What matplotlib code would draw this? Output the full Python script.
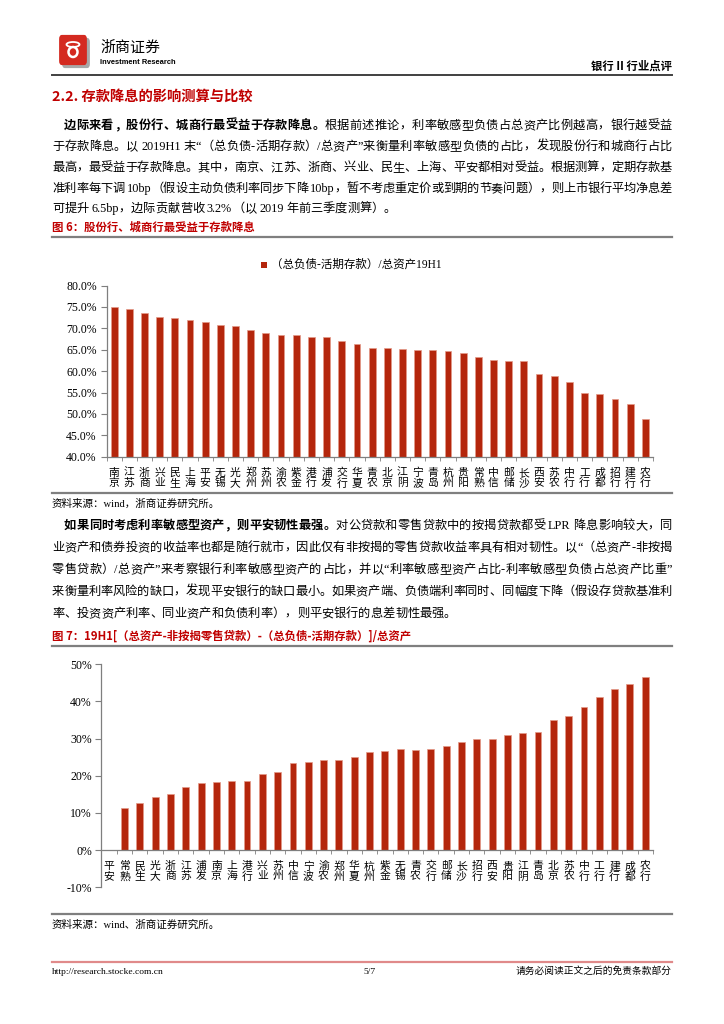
import re
import matplotlib
matplotlib.use("Agg")
import matplotlib.pyplot as plt
from matplotlib.patches import Rectangle, FancyBboxPatch, Ellipse
from matplotlib.lines import Line2D

# ---------------- data ----------------
banks1 = ["南京", "江苏", "浙商", "兴业", "民生", "上海", "平安", "无锡", "光大", "郑州",
          "苏州", "渝农", "紫金", "港行", "浦发", "交行", "华夏", "青农", "北京", "江阴",
          "宁波", "青岛", "杭州", "贵阳", "常熟", "中信", "邮储", "长沙", "西安", "苏农",
          "中行", "工行", "成都", "招行", "建行", "农行"]
values1 = [75.1, 74.6, 73.7, 72.7, 72.5, 72.0, 71.4, 70.7, 70.6, 69.6,
           68.9, 68.4, 68.4, 68.1, 68.0, 67.1, 66.3, 65.5, 65.3, 65.1,
           64.9, 64.9, 64.7, 64.2, 63.3, 62.5, 62.4, 62.4, 59.3, 58.9,
           57.4, 55.0, 54.7, 53.6, 52.3, 48.7]
yticks1 = [40, 45, 50, 55, 60, 65, 70, 75, 80]
legend1 = "（总负债-活期存款）/总资产19H1"

banks2 = ["平安", "常熟", "民生", "光大", "浙商", "江苏", "浦发", "南京", "上海", "港行",
          "兴业", "苏州", "中信", "宁波", "渝农", "郑州", "华夏", "杭州", "紫金", "无锡",
          "青农", "交行", "邮储", "长沙", "招行", "西安", "贵阳", "江阴", "青岛", "北京",
          "苏农", "中行", "工行", "建行", "成都", "农行"]
values2 = [0.1, 11.3, 12.8, 14.3, 15.2, 17.1, 18.1, 18.3, 18.5, 18.5,
           20.6, 21.0, 23.4, 23.8, 24.2, 24.3, 25.0, 26.3, 26.7, 27.1,
           27.0, 27.2, 28.0, 29.0, 29.9, 30.0, 30.9, 31.5, 31.8, 34.9,
           36.0, 38.4, 41.3, 43.3, 44.6, 46.5]
yticks2 = [-10, 0, 10, 20, 30, 40, 50]

para1 = [
    [("边际来看，股份行、城商行最受益于存款降息。", True), ("根据前述推论，利率敏感型负债占总资产比例越高，银行越受益", False)],
    [("于存款降息。以 2019H1 末“（总负债-活期存款）/总资产”来衡量利率敏感型负债的占比，发现股份行和城商行占比", False)],
    [("最高，最受益于存款降息。其中，南京、江苏、浙商、兴业、民生、上海、平安都相对受益。根据测算，定期存款基", False)],
    [("准利率每下调 10bp（假设主动负债利率同步下降 10bp，暂不考虑重定价或到期的节奏问题），则上市银行平均净息差", False)],
    [("可提升 6.5bp，边际贡献营收 3.2%（以 2019 年前三季度测算）。", False)],
]
para2 = [
    [("如果同时考虑利率敏感型资产，则平安韧性最强。", True), ("对公贷款和零售贷款中的按揭贷款都受 LPR 降息影响较大，同", False)],
    [("业资产和债券投资的收益率也都是随行就市，因此仅有非按揭的零售贷款收益率具有相对韧性。以“（总资产-非按揭", False)],
    [("零售贷款）/总资产”来考察银行利率敏感型资产的占比，并以“利率敏感型资产占比-利率敏感型负债占总资产比重”", False)],
    [("来衡量利率风险的缺口，发现平安银行的缺口最小。如果资产端、负债端利率同时、同幅度下降（假设存贷款基准利", False)],
    [("率、投资资产利率、同业资产和负债利率），则平安银行的息差韧性最强。", False)],
]

# ---------------- setup ----------------
W, H = 724, 1024
fig = plt.figure(figsize=(W / 100, H / 100), dpi=100)
fig.patch.set_facecolor("white")
renderer = fig.canvas.get_renderer()

MIX = ["Liberation Serif", "Noto Sans CJK SC"]
CJK = ["Noto Sans CJK SC", "DejaVu Sans"]
RED = "#C00000"
BAR = "#B4260C"
GRAY = "#7F7F7F"


def fx(x):
    return x / W


def fy(y):
    return 1 - y / H


def hline(y, x0=52, x1=672, color=GRAY, lw=1.6):
    fig.add_artist(Line2D([fx(x0), fx(x1)], [fy(y), fy(y)], color=color, lw=lw,
                          transform=fig.transFigure))


def txt(x, y, s, size, **kw):
    kw.setdefault("family", MIX)
    return fig.text(fx(x), fy(y), s, fontsize=size, va="baseline", **kw)


def text_line(segs, x0, x1, y, size, justify=True):
    toks = []
    for s, bold in segs:
        for t in re.findall(r"[A-Za-z0-9\.%]+|.", s):
            toks.append((t, bold))
    arts = []
    widths = []
    for t, bold in toks:
        a = fig.text(0, fy(y), t, fontsize=size, va="baseline", family=MIX,
                     weight="bold" if bold else "normal", color="black")
        w = a.get_window_extent(renderer).width if t != " " else size * 0.28
        arts.append(a)
        widths.append(w)
    total = sum(widths)
    gap = (x1 - x0 - total) / max(len(toks) - 1, 1) if justify else 0.0
    x = x0
    for a, w in zip(arts, widths):
        a.set_x(fx(x))
        x += w + gap


def style_bar_axis(ax, cats, yticks, fmt):
    n = len(cats)
    ax.set_xlim(-0.5, n - 0.5)
    ax.set_yticks(yticks)
    ax.set_yticklabels([fmt(v) for v in yticks], family=MIX, fontsize=8.5)
    ax.set_xticks(list(range(n)))
    ax.set_xticklabels(["\n".join(b) for b in cats], family=CJK, fontsize=7.8,
                       linespacing=0.98)
    ax.set_xticks([i + 0.5 for i in range(-1, n)], minor=True)
    ax.tick_params(axis="x", which="major", length=0, pad=8.0)
    ax.tick_params(axis="x", which="minor", length=3, color=GRAY, direction="out")
    ax.tick_params(axis="y", length=4, color=GRAY, direction="out", pad=3)
    for s in ["top", "right"]:
        ax.spines[s].set_visible(False)
    for s in ["left", "bottom"]:
        ax.spines[s].set_color(GRAY)
        ax.spines[s].set_linewidth(0.9)


# ---------------- header ----------------
fig.add_artist(FancyBboxPatch((fx(65), fy(64)), fx(22), fy(42) - fy(64),
                              boxstyle="round,pad=0.004", fc="#A8A8A8", ec="none",
                              transform=fig.transFigure))
fig.add_artist(FancyBboxPatch((fx(62), fy(61)), fx(22), fy(39) - fy(61),
                              boxstyle="round,pad=0.004", fc="#D42A20", ec="none",
                              transform=fig.transFigure))
fig.add_artist(Ellipse((fx(73), fy(52)), fx(9), 10 / H, fc="none", ec="white", lw=1.8,
                       transform=fig.transFigure))
fig.add_artist(Ellipse((fx(73), fy(44.5)), fx(13), 5 / H, fc="none", ec="white", lw=1.3,
                       transform=fig.transFigure))
txt(100, 52, "浙商证券", 10.8, family=CJK)
txt(100, 64, "Investment Research", 5.4, family=["Liberation Sans Narrow", "Liberation Sans"],
    weight="bold")
fig.text(fx(672), fy(70), "银行 II 行业点评", fontsize=8.2, family=CJK, weight="bold",
         ha="right", va="baseline")
hline(75, color="#404040", lw=1.4)

txt(52, 101, "2.2. 存款降息的影响测算与比较", 10.3, family=CJK, weight="bold", color=RED)

# ---------------- paragraph 1 ----------------
ys1 = [129, 150, 171, 192, 212]
for i, (segs, y) in enumerate(zip(para1, ys1)):
    x0 = 64 if i == 0 else 52
    text_line(segs, x0, 672, y, 8.8, justify=(i < len(para1) - 1))

txt(52, 231, "图 6：股份行、城商行最受益于存款降息", 8.2, family=CJK, weight="bold", color=RED)
hline(237)

# legend
fig.add_artist(Rectangle((fx(261), fy(268)), fx(6), 6 / H, fc=BAR, ec="none",
                         transform=fig.transFigure))
txt(271, 268, legend1, 8.3)

# ---------------- chart 1 ----------------
ax1 = fig.add_axes([fx(106.5), fy(456.7), fx(652.9) - fx(106.5), fy(285.6) - fy(456.7)])
ax1.bar(list(range(len(banks1))), values1, width=0.45, color=BAR, edgecolor="#E49A88",
        linewidth=0.5)
ax1.set_ylim(40, 80)
style_bar_axis(ax1, banks1, yticks1, lambda v: f"{v:.1f}%")

hline(493)
txt(52, 507, "资料来源：wind，浙商证券研究所。", 7.6)

# ---------------- paragraph 2 ----------------
ys2 = [529, 551, 573, 595, 617]
for i, (segs, y) in enumerate(zip(para2, ys2)):
    x0 = 64 if i == 0 else 52
    text_line(segs, x0, 672, y, 8.8, justify=(i < len(para2) - 1))

txt(52, 640, "图 7：19H1[（总资产-非按揭零售贷款）-（总负债-活期存款）]/总资产", 8.2,
    family=CJK, weight="bold", color=RED)
hline(646)

# ---------------- chart 2 ----------------
ax2 = fig.add_axes([fx(101.5), fy(887.3), fx(652.9) - fx(101.5), fy(664.3) - fy(887.3)])
ax2.spines["bottom"].set_position(("data", 0))
ax2.bar(list(range(len(banks2))), values2, width=0.45, color=BAR, edgecolor="#E49A88",
        linewidth=0.5)
ax2.set_ylim(-10, 50)
style_bar_axis(ax2, banks2, yticks2, lambda v: f"{v}%")

hline(914)
txt(52, 928, "资料来源：wind、浙商证券研究所。", 7.6)

# ---------------- footer ----------------
hline(962, color="#E08A8A", lw=1.6)
txt(52, 974, "http://research.stocke.com.cn", 6.8)
txt(363, 974, "5/7", 6.8)
fig.text(fx(672), fy(974), "请务必阅读正文之后的免责条款部分", fontsize=7.0, family=MIX,
         ha="right", va="baseline")

fig.savefig("out.png", dpi=100, facecolor="white")
